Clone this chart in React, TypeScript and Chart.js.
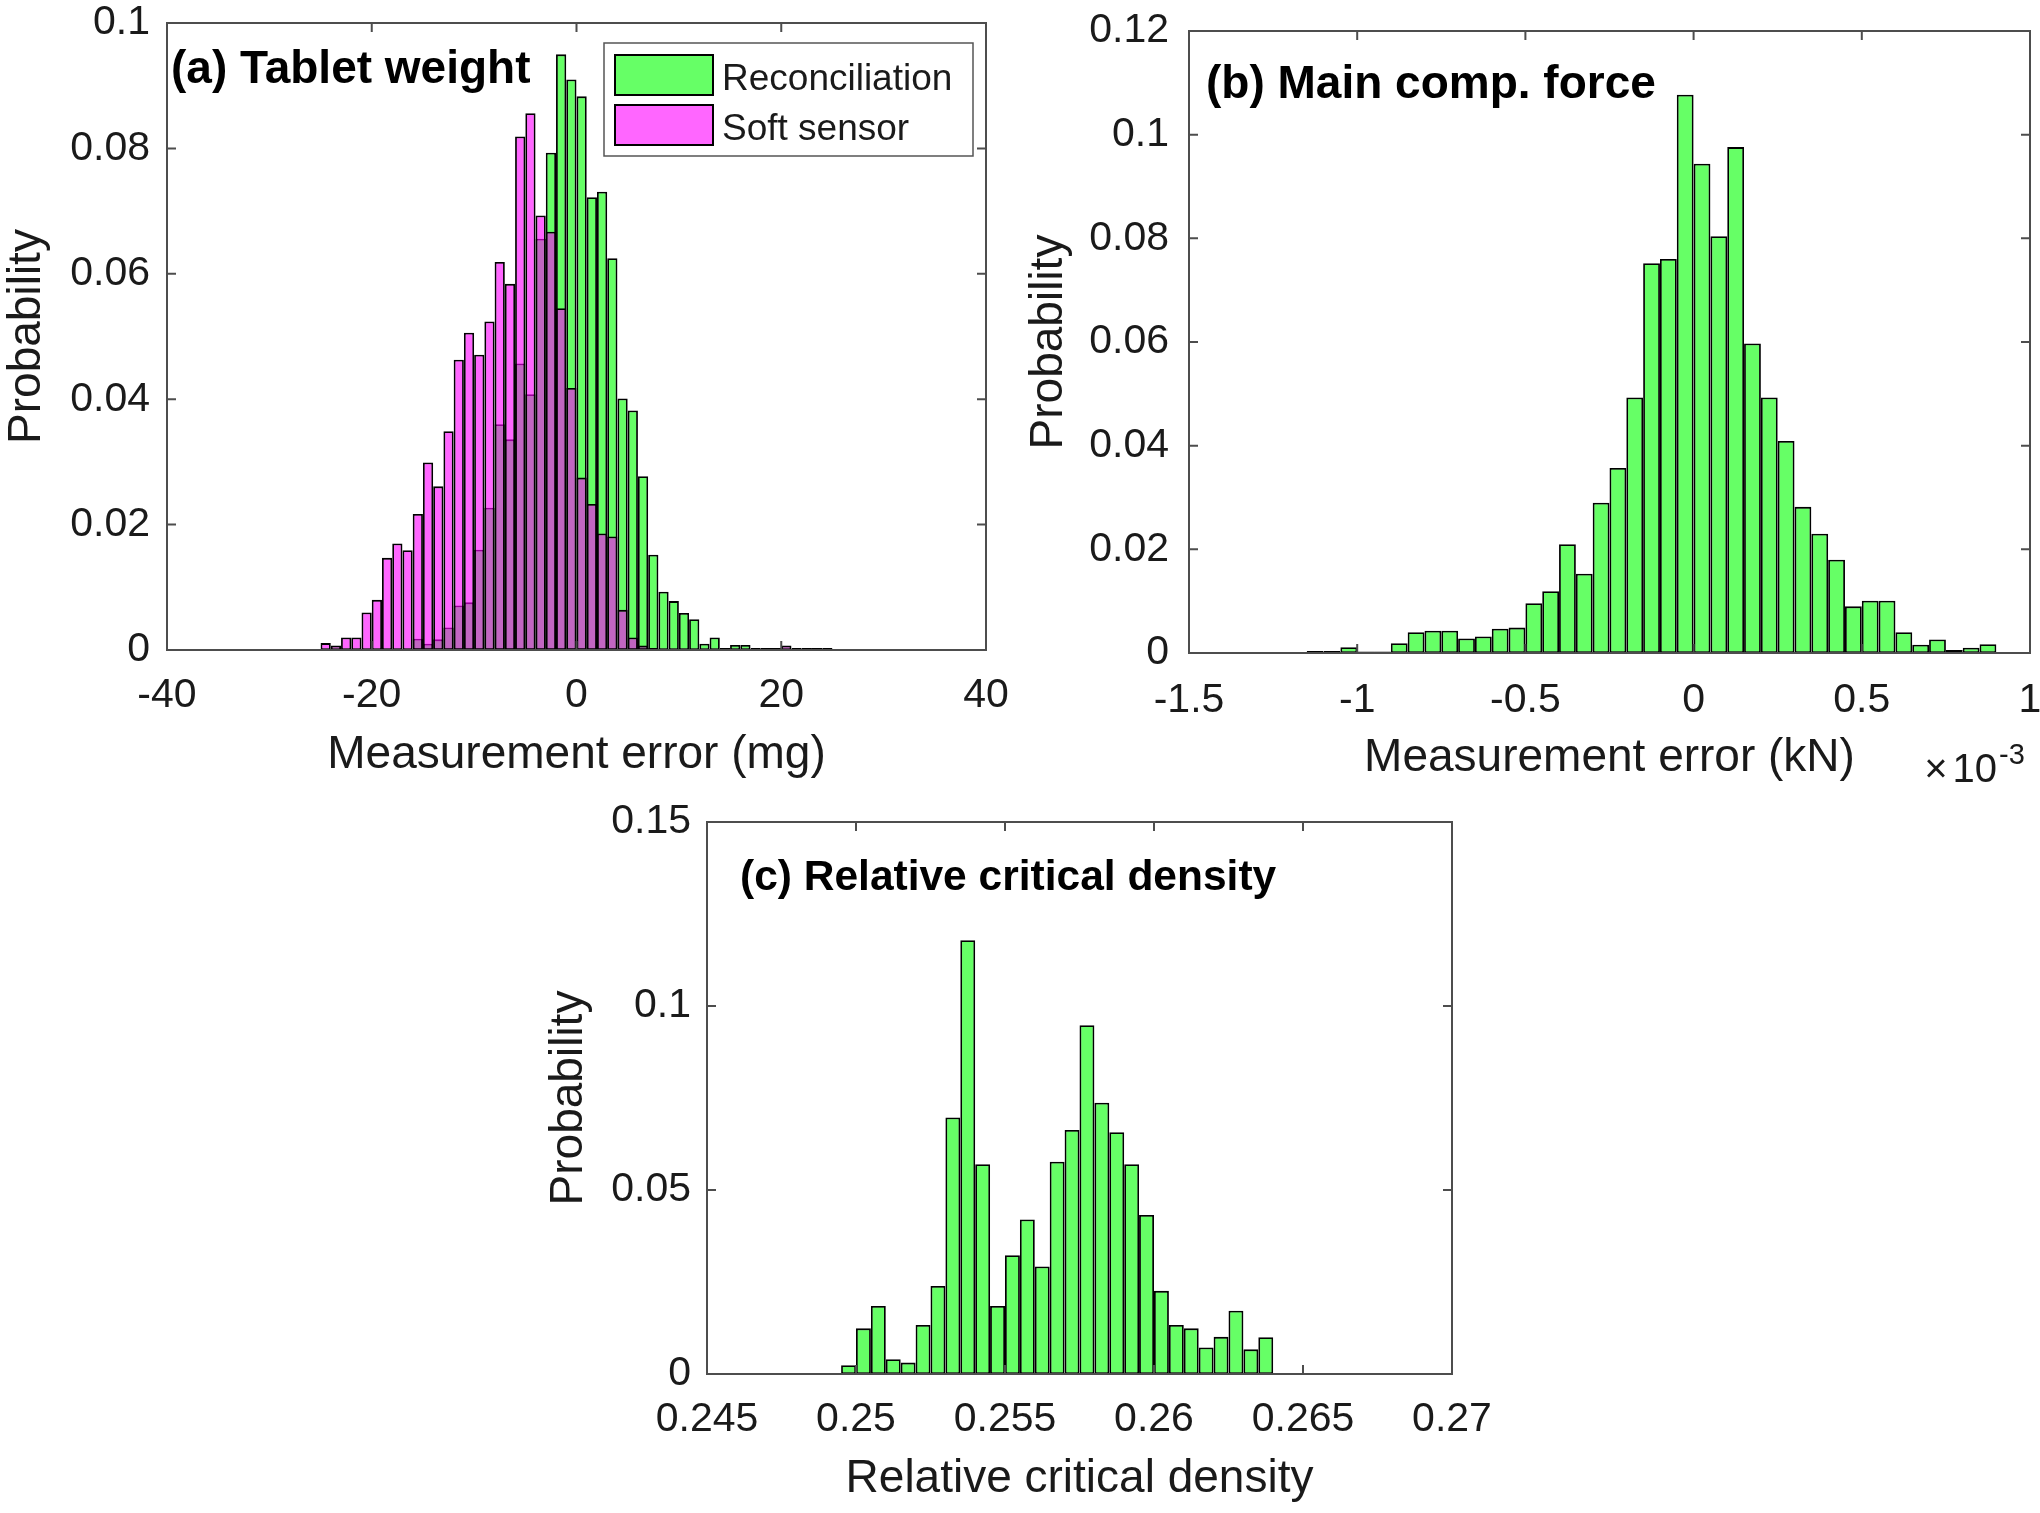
import React, { useEffect, useRef } from "react";
import { Chart, registerables } from "chart.js";

Chart.register(...registerables);

const FONT = '"Liberation Sans", Arial, Helvetica, sans-serif';
const TEXT = "#1a1a1a";
const GREEN = "rgba(0,255,0,0.6)";
const MAGENTA = "rgba(255,0,255,0.6)";

// ---------- Panel (a) Tablet weight ----------
const A_BIN_CENTERS = [
  -24.5, -23.5, -22.5, -21.5, -20.5, -19.5, -18.5, -17.5, -16.5, -15.5,
  -14.5, -13.5, -12.5, -11.5, -10.5, -9.5, -8.5, -7.5, -6.5, -5.5,
  -4.5, -3.5, -2.5, -1.5, -0.5, 0.5, 1.5, 2.5, 3.5, 4.5,
  5.5, 6.5, 7.5, 8.5, 9.5, 10.5, 11.5, 12.5, 13.5, 14.5,
  15.5, 16.5, 17.5, 18.5, 19.5, 20.5, 21.5, 22.5, 23.5, 24.5,
];
const A_RECONCILIATION = [
  0, 0, 0, 0, 0, 0, 0, 0, 0, 0.0018,
  0.001, 0.0017, 0.0036, 0.0071, 0.0076, 0.016, 0.0227, 0.036, 0.0336, 0.0457,
  0.0408, 0.0656, 0.0793, 0.095, 0.091, 0.0883, 0.0722, 0.0731, 0.0625, 0.0401,
  0.0382, 0.0277, 0.0152, 0.0093, 0.0078, 0.0059, 0.0049, 0.001, 0.002, 0.0003,
  0.0008, 0.0008, 0.0003, 0.0003, 0.0003, 0.0002, 0, 0, 0, 0,
];
const A_SOFT_SENSOR = [
  0.0011, 0.0007, 0.002, 0.002, 0.006, 0.008, 0.0147, 0.017, 0.0159, 0.0217,
  0.0299, 0.0261, 0.0349, 0.0463, 0.0506, 0.0471, 0.0524, 0.0619, 0.0584, 0.0819,
  0.0856, 0.0693, 0.0667, 0.0545, 0.0418, 0.0275, 0.0233, 0.0186, 0.0181, 0.0064,
  0.002, 0.0007, 0.0003, 0.0002, 0.0002, 0.0002, 0.0002, 0.0001, 0.0001, 0.0002,
  0.0002, 0.0002, 0.0002, 0.0003, 0.0003, 0.0007, 0.0003, 0.0003, 0.0003, 0.0003,
];
const A_X_TICKS = [-40, -20, 0, 20, 40];
const A_X_TICK_LABELS = ["-40", "-20", "0", "20", "40"];
const A_Y_TICKS = [0, 0.02, 0.04, 0.06, 0.08, 0.1];
const A_Y_TICK_LABELS = ["0", "0.02", "0.04", "0.06", "0.08", "0.1"];

// ---------- Panel (b) Main comp. force (x values in 1e-3 kN) ----------
const B_BIN_CENTERS = [
  -1.125, -1.075, -1.025, -0.975, -0.925, -0.875, -0.825, -0.775, -0.725, -0.675,
  -0.625, -0.575, -0.525, -0.475, -0.425, -0.375, -0.325, -0.275, -0.225, -0.175,
  -0.125, -0.075, -0.025, 0.025, 0.075, 0.125, 0.175, 0.225, 0.275, 0.325,
  0.375, 0.425, 0.475, 0.525, 0.575, 0.625, 0.675, 0.725, 0.775, 0.825, 0.875,
];
const B_RECONCILIATION = [
  0.0004, 0.0004, 0.0011, 0.0003, 0.0003, 0.0019, 0.004, 0.0043, 0.0043, 0.0028,
  0.0032, 0.0047, 0.0049, 0.0096, 0.0119, 0.021, 0.0153, 0.029, 0.0357, 0.0493,
  0.0752, 0.076, 0.1077, 0.0944, 0.0804, 0.0976, 0.0597, 0.0493, 0.0409, 0.0282,
  0.023, 0.018, 0.009, 0.0101, 0.0101, 0.004, 0.0016, 0.0026, 0.0006, 0.001, 0.0017,
];
const B_X_TICKS = [-1.5, -1, -0.5, 0, 0.5, 1];
const B_X_TICK_LABELS = ["-1.5", "-1", "-0.5", "0", "0.5", "1"];
const B_Y_TICKS = [0, 0.02, 0.04, 0.06, 0.08, 0.1, 0.12];
const B_Y_TICK_LABELS = ["0", "0.02", "0.04", "0.06", "0.08", "0.1", "0.12"];

// ---------- Panel (c) Relative critical density ----------
const C_BIN_CENTERS = [
  0.24975, 0.25025, 0.25075, 0.25125, 0.25175, 0.25225, 0.25275, 0.25325, 0.25375, 0.25425,
  0.25475, 0.25525, 0.25575, 0.25625, 0.25675, 0.25725, 0.25775, 0.25825, 0.25875, 0.25925,
  0.25975, 0.26025, 0.26075, 0.26125, 0.26175, 0.26225, 0.26275, 0.26325, 0.26375,
];
const C_RECONCILIATION = [
  0.0024, 0.0124, 0.0185, 0.004, 0.0031, 0.0133, 0.0239, 0.0697, 0.1179, 0.057,
  0.0185, 0.0323, 0.042, 0.0292, 0.0577, 0.0663, 0.0948, 0.0737, 0.0657, 0.057,
  0.0432, 0.0226, 0.0133, 0.0124, 0.0072, 0.0101, 0.0172, 0.0067, 0.01,
];
const C_X_TICKS = [0.245, 0.25, 0.255, 0.26, 0.265, 0.27];
const C_X_TICK_LABELS = ["0.245", "0.25", "0.255", "0.26", "0.265", "0.27"];
const C_Y_TICKS = [0, 0.05, 0.1, 0.15];
const C_Y_TICK_LABELS = ["0", "0.05", "0.1", "0.15"];

type Series = { label: string; values: number[]; color: string; order: number };
type Panel = {
  key: string;
  left: number; top: number; width: number; height: number;
  plotLeft: number; plotTop: number; plotRight: number; plotBottom: number;
  xMin: number; xMax: number; yMin: number; yMax: number;
  bins: number[]; series: Series[];
  xTicks: number[]; xLabels: string[]; yTicks: number[]; yLabels: string[];
  xTitle: string; yTitle: string;
  tickSize: number; axisTitleSize: number;
  xTickPad: number; yTickPad: number; xTitlePad: number; yTitlePad: number;
  panelTitle: string; panelTitleSize: number; panelTitleDx: number; panelTitleDy: number;
  legend?: boolean; exponent?: boolean;
};

const PANELS: Panel[] = [
  {
    key: "a", left: 0, top: 0, width: 1010, height: 800,
    plotLeft: 167, plotTop: 23, plotRight: 986, plotBottom: 650,
    xMin: -40, xMax: 40, yMin: 0, yMax: 0.1,
    bins: A_BIN_CENTERS,
    series: [
      { label: "Reconciliation", values: A_RECONCILIATION, color: GREEN, order: 1 },
      { label: "Soft sensor", values: A_SOFT_SENSOR, color: MAGENTA, order: 0 },
    ],
    xTicks: A_X_TICKS, xLabels: A_X_TICK_LABELS, yTicks: A_Y_TICKS, yLabels: A_Y_TICK_LABELS,
    xTitle: "Measurement error (mg)", yTitle: "Probability",
    tickSize: 41, axisTitleSize: 46,
    xTickPad: 21.4, yTickPad: 17, xTitlePad: 17.4, yTitlePad: 0,
    panelTitle: "(a) Tablet weight", panelTitleSize: 46, panelTitleDx: 4, panelTitleDy: 60,
    legend: true,
  },
  {
    key: "b", left: 1020, top: 0, width: 1020, height: 800,
    plotLeft: 1189, plotTop: 31, plotRight: 2030, plotBottom: 653,
    xMin: -1.5, xMax: 1, yMin: 0, yMax: 0.12,
    bins: B_BIN_CENTERS,
    series: [{ label: "Reconciliation", values: B_RECONCILIATION, color: GREEN, order: 0 }],
    xTicks: B_X_TICKS, xLabels: B_X_TICK_LABELS, yTicks: B_Y_TICKS, yLabels: B_Y_TICK_LABELS,
    xTitle: "Measurement error (kN)", yTitle: "Probability",
    tickSize: 41, axisTitleSize: 46,
    xTickPad: 23, yTickPad: 20, xTitlePad: 14.4, yTitlePad: 1.4,
    panelTitle: "(b) Main comp. force", panelTitleSize: 46, panelTitleDx: 17, panelTitleDy: 66.6,
    exponent: true,
  },
  {
    key: "c", left: 540, top: 800, width: 1000, height: 713,
    plotLeft: 707, plotTop: 822, plotRight: 1452, plotBottom: 1374,
    xMin: 0.245, xMax: 0.27, yMin: 0, yMax: 0.15,
    bins: C_BIN_CENTERS,
    series: [{ label: "Reconciliation", values: C_RECONCILIATION, color: GREEN, order: 0 }],
    xTicks: C_X_TICKS, xLabels: C_X_TICK_LABELS, yTicks: C_Y_TICKS, yLabels: C_Y_TICK_LABELS,
    xTitle: "Relative critical density", yTitle: "Probability",
    tickSize: 41, axisTitleSize: 46,
    xTickPad: 21.4, yTickPad: 16, xTitlePad: 6.4, yTitlePad: 1.4,
    panelTitle: "(c) Relative critical density", panelTitleSize: 42.5, panelTitleDx: 33, panelTitleDy: 68,
  },
];

const TICK_LEN = 9;

function makeDecor(p: Panel) {
  return {
    id: "decor_" + p.key,
    afterDraw(chart: any) {
      const { ctx, chartArea: ca, scales } = chart;
      const xs = scales.x;
      const ys = scales.y;
      ctx.save();
      // inward tick marks on all four sides
      ctx.strokeStyle = "#4d4d4d";
      ctx.lineWidth = 2;
      ctx.beginPath();
      for (const v of p.xTicks) {
        const x = xs.getPixelForValue(v);
        if (x <= ca.left + 1 || x >= ca.right - 1) continue;
        ctx.moveTo(x, ca.bottom);
        ctx.lineTo(x, ca.bottom - TICK_LEN);
        ctx.moveTo(x, ca.top);
        ctx.lineTo(x, ca.top + TICK_LEN);
      }
      for (const v of p.yTicks) {
        const y = ys.getPixelForValue(v);
        if (y <= ca.top + 1 || y >= ca.bottom - 1) continue;
        ctx.moveTo(ca.left, y);
        ctx.lineTo(ca.left + TICK_LEN, y);
        ctx.moveTo(ca.right, y);
        ctx.lineTo(ca.right - TICK_LEN, y);
      }
      ctx.stroke();
      ctx.strokeRect(ca.left, ca.top, ca.right - ca.left, ca.bottom - ca.top);

      // panel title
      ctx.fillStyle = "#000";
      ctx.font = `bold ${p.panelTitleSize}px ${FONT}`;
      ctx.textAlign = "left";
      ctx.textBaseline = "alphabetic";
      ctx.fillText(p.panelTitle, ca.left + p.panelTitleDx, ca.top + p.panelTitleDy);

      // legend box (panel a)
      if (p.legend) {
        const bx = ca.left + 437;
        const by = ca.top + 20;
        const bw = 369;
        const bh = 113;
        ctx.fillStyle = "#fff";
        ctx.fillRect(bx, by, bw, bh);
        ctx.strokeStyle = "#555";
        ctx.lineWidth = 1.5;
        ctx.strokeRect(bx, by, bw, bh);
        const rows = chart.data.datasets;
        rows.forEach((ds: any, i: number) => {
          const sy = by + 12 + i * 50;
          ctx.fillStyle = ds.backgroundColor;
          ctx.fillRect(bx + 11, sy, 98, 40);
          ctx.strokeStyle = "#000";
          ctx.lineWidth = 2;
          ctx.strokeRect(bx + 11, sy, 98, 40);
          ctx.fillStyle = TEXT;
          ctx.font = `37px ${FONT}`;
          ctx.textBaseline = "alphabetic";
          ctx.fillText(ds.label, bx + 118, sy + 35);
        });
      }

      // x10^-3 exponent (panel b)
      if (p.exponent) {
        const baseY = ca.bottom + 129;
        const tenRight = ca.right - 33;
        ctx.fillStyle = TEXT;
        ctx.textBaseline = "alphabetic";
        ctx.font = `40px ${FONT}`;
        ctx.textAlign = "right";
        ctx.fillText("10", tenRight, baseY);
        const tenW = ctx.measureText("10").width;
        ctx.fillText("\u00d7", tenRight - tenW - 5, baseY);
        ctx.textAlign = "left";
        ctx.font = `29px ${FONT}`;
        ctx.fillText("-3", tenRight + 2, baseY - 18);
      }
      ctx.restore();
    },
  };
}

function buildConfig(p: Panel): any {
  const pad = {
    left: 0,
    top: p.plotTop - p.top,
    right: p.left + p.width - p.plotRight,
    bottom: 0,
  };
  const yW = p.plotLeft - p.left;
  const xH = p.top + p.height - p.plotBottom;
  const zeroPad = (s: any) => {
    s.paddingLeft = 0;
    s.paddingRight = 0;
    s.paddingTop = 0;
    s.paddingBottom = 0;
  };
  return {
    type: "bar",
    data: {
      datasets: p.series.map((s) => ({
        label: s.label,
        data: p.bins.map((x, i) => ({ x, y: s.values[i] })),
        backgroundColor: s.color,
        borderColor: "#000",
        borderWidth: 1.8,
        borderSkipped: false,
        inflateAmount: 0,
        grouped: false,
        barPercentage: 1,
        categoryPercentage: 1,
        order: s.order,
      })),
    },
    options: {
      responsive: false,
      animation: false,
      events: [],
      layout: { padding: pad },
      plugins: {
        legend: { display: false },
        tooltip: { enabled: false },
        title: { display: false },
      },
      scales: {
        x: {
          type: "linear",
          min: p.xMin,
          max: p.xMax,
          offset: false,
          grid: { display: false, drawTicks: false, offset: false },
          border: { display: false },
          ticks: {
            autoSkip: false,
            maxRotation: 0,
            minRotation: 0,
            padding: p.xTickPad,
            color: TEXT,
            font: { size: p.tickSize, family: FONT },
            callback: (_v: any, i: number) => p.xLabels[i],
          },
          afterBuildTicks: (s: any) => {
            s.ticks = p.xTicks.map((v) => ({ value: v }));
          },
          afterFit: (s: any) => {
            s.height = xH;
            zeroPad(s);
          },
          title: {
            display: true,
            text: p.xTitle,
            color: TEXT,
            font: { size: p.axisTitleSize, family: FONT },
            padding: { top: 0, bottom: p.xTitlePad },
          },
        },
        y: {
          type: "linear",
          min: p.yMin,
          max: p.yMax,
          grid: { display: false, drawTicks: false },
          border: { display: false },
          ticks: {
            autoSkip: false,
            padding: p.yTickPad,
            color: TEXT,
            font: { size: p.tickSize, family: FONT },
            callback: (_v: any, i: number) => p.yLabels[i],
          },
          afterBuildTicks: (s: any) => {
            s.ticks = p.yTicks.map((v) => ({ value: v }));
          },
          afterFit: (s: any) => {
            s.width = yW;
            zeroPad(s);
          },
          title: {
            display: true,
            text: p.yTitle,
            color: TEXT,
            font: { size: p.axisTitleSize, family: FONT },
            padding: { top: p.yTitlePad, bottom: 0 },
          },
        },
      },
    },
    plugins: [makeDecor(p)],
  };
}

function HistPanel({ p }: { p: Panel }) {
  const ref = useRef<HTMLCanvasElement>(null);
  useEffect(() => {
    if (!ref.current) return;
    const chart = new Chart(ref.current, buildConfig(p));
    return () => chart.destroy();
  }, [p]);
  return (
    <canvas
      ref={ref}
      width={p.width}
      height={p.height}
      style={{
        position: "absolute",
        left: p.left,
        top: p.top,
        width: p.width,
        height: p.height,
        display: "block",
      }}
    />
  );
}

export default function App() {
  useEffect(() => {
    document.body.style.overflow = "hidden";
    document.body.style.background = "#fff";
  }, []);
  return (
    <div>
      {PANELS.map((p) => (
        <HistPanel key={p.key} p={p} />
      ))}
    </div>
  );
}
